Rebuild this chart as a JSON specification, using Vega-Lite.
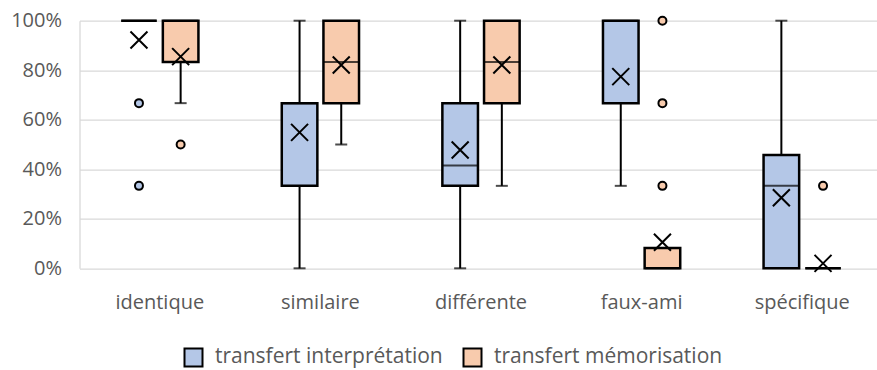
{
  "$schema": "https://vega.github.io/schema/vega-lite/v6.json",
  "width": 797.5,
  "height": 247.6,
  "autosize": {"type": "none"},
  "padding": {"left": 79.5, "top": 20.7, "right": 0, "bottom": 101.7},
  "config": {"view": {"stroke": null}, "font": "Open Sans"},
  "datasets": {
    "boxes": [
      {"cat": "identique", "serie": "transfert interprétation", "lo": 1, "q1": 1, "med": 1, "q3": 1, "hi": 1, "mean": 0.922},
      {"cat": "identique", "serie": "transfert mémorisation", "lo": 0.667, "q1": 0.833, "med": 1, "q3": 1, "hi": 1, "mean": 0.855},
      {"cat": "similaire", "serie": "transfert interprétation", "lo": 0, "q1": 0.333, "med": 0.667, "q3": 0.667, "hi": 1, "mean": 0.549},
      {"cat": "similaire", "serie": "transfert mémorisation", "lo": 0.5, "q1": 0.667, "med": 0.833, "q3": 1, "hi": 1, "mean": 0.821},
      {"cat": "différente", "serie": "transfert interprétation", "lo": 0, "q1": 0.333, "med": 0.415, "q3": 0.667, "hi": 1, "mean": 0.478},
      {"cat": "différente", "serie": "transfert mémorisation", "lo": 0.333, "q1": 0.667, "med": 0.833, "q3": 1, "hi": 1, "mean": 0.821},
      {"cat": "faux-ami", "serie": "transfert interprétation", "lo": 0.333, "q1": 0.667, "med": 1, "q3": 1, "hi": 1, "mean": 0.774},
      {"cat": "faux-ami", "serie": "transfert mémorisation", "lo": 0, "q1": 0, "med": 0, "q3": 0.082, "hi": 0.082, "mean": 0.105},
      {"cat": "spécifique", "serie": "transfert interprétation", "lo": 0, "q1": 0, "med": 0.333, "q3": 0.458, "hi": 1, "mean": 0.285},
      {"cat": "spécifique", "serie": "transfert mémorisation", "lo": 0, "q1": 0, "med": 0, "q3": 0, "hi": 0, "mean": 0.02}
    ],
    "outliers": [
      {"cat": "identique", "serie": "transfert interprétation", "v": 0.667},
      {"cat": "identique", "serie": "transfert interprétation", "v": 0.333},
      {"cat": "identique", "serie": "transfert mémorisation", "v": 0.5},
      {"cat": "faux-ami", "serie": "transfert mémorisation", "v": 1},
      {"cat": "faux-ami", "serie": "transfert mémorisation", "v": 0.667},
      {"cat": "faux-ami", "serie": "transfert mémorisation", "v": 0.333},
      {"cat": "spécifique", "serie": "transfert mémorisation", "v": 0.333}
    ]
  },
  "encoding": {
    "x": {
      "field": "cat", "type": "nominal",
      "sort": ["identique", "similaire", "différente", "faux-ami", "spécifique"],
      "scale": {"range": [0, 803], "paddingInner": 0, "paddingOuter": 0},
      "axis": {"title": null, "domain": false, "ticks": false, "grid": false, "labelAngle": 0, "labelFontSize": 20, "labelColor": "#595959", "labelPadding": 24}
    },
    "xOffset": {
      "field": "serie", "type": "nominal",
      "sort": ["transfert interprétation", "transfert mémorisation"],
      "scale": {"paddingInner": 0.146, "paddingOuter": 1.03}
    }
  },
  "layer": [
    {
      "data": {"name": "boxes"},
      "mark": {"type": "rule", "color": "black", "strokeWidth": 2},
      "encoding": {
        "y": {"field": "lo", "type": "quantitative", "scale": {"domain": [0, 1]},
          "axis": {"title": null, "values": [0, 0.2, 0.4, 0.6, 0.8, 1], "format": ".0%", "grid": true, "gridColor": "#D9D9D9", "gridWidth": 1.3, "domain": true, "domainColor": "#D9D9D9", "domainWidth": 1.3, "ticks": false, "labelFontSize": 20, "labelColor": "#595959", "labelPadding": 18}},
        "y2": {"field": "hi"}
      }
    },
    {
      "data": {"name": "boxes"},
      "transform": [{"filter": "datum.lo < datum.q1"}],
      "mark": {"type": "tick", "color": "black", "size": 12, "thickness": 2},
      "encoding": {"y": {"field": "lo", "type": "quantitative"}}
    },
    {
      "data": {"name": "boxes"},
      "transform": [{"filter": "datum.hi > datum.q3"}],
      "mark": {"type": "tick", "color": "black", "size": 12, "thickness": 2},
      "encoding": {"y": {"field": "hi", "type": "quantitative"}}
    },
    {
      "data": {"name": "boxes"},
      "mark": {"type": "bar", "stroke": "black", "strokeWidth": 2.5},
      "encoding": {
        "y": {"field": "q1", "type": "quantitative"},
        "y2": {"field": "q3"},
        "fill": {
          "field": "serie", "type": "nominal",
          "scale": {"domain": ["transfert interprétation", "transfert mémorisation"], "range": ["#B4C7E7", "#F8CBAD"]},
          "legend": {"orient": "none", "legendX": 103.5, "legendY": 326, "direction": "horizontal", "title": null, "symbolType": "square", "symbolSize": 324, "symbolStrokeColor": "black", "symbolStrokeWidth": 2, "symbolOpacity": 1, "labelFontSize": 21, "labelColor": "#595959", "labelOffset": 11, "columnPadding": 16, "labelLimit": 400, "padding": 0}
        }
      }
    },
    {
      "data": {"name": "boxes"},
      "mark": {"type": "tick", "color": "black", "size": 35, "thickness": 2},
      "encoding": {"y": {"field": "med", "type": "quantitative"}}
    },
    {
      "data": {"name": "boxes"},
      "mark": {"type": "point", "shape": "M-1,-1L1,1M-1,1L1,-1", "size": 289, "filled": false, "stroke": "black", "strokeWidth": 2, "opacity": 1},
      "encoding": {"y": {"field": "mean", "type": "quantitative"}}
    },
    {
      "data": {"name": "outliers"},
      "mark": {"type": "point", "shape": "circle", "size": 64, "filled": true, "stroke": "black", "strokeWidth": 2, "opacity": 1},
      "encoding": {
        "y": {"field": "v", "type": "quantitative"},
        "fill": {"field": "serie", "type": "nominal"}
      }
    }
  ]
}
